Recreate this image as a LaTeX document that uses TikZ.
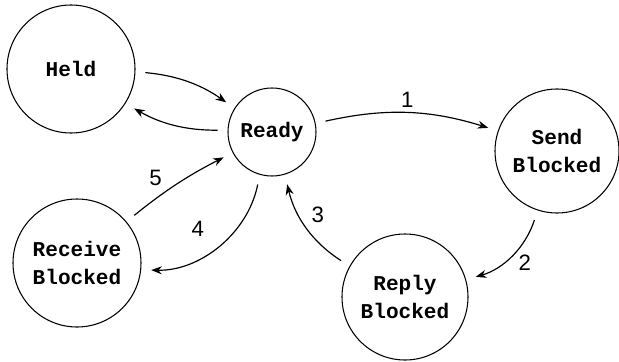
\documentclass[tikz,border=0pt]{standalone}
\usepackage{fontspec}
\setmainfont{Liberation Sans}
\setsansfont{Liberation Sans}
\setmonofont{Liberation Mono}
\usetikzlibrary{arrows.meta,positioning}

\begin{document}
\begin{tikzpicture}[x=0.3mm,y=-0.3mm,>={Stealth[length=3.2mm,width=2.4mm]},
	state/.style={circle,draw,line width=0.9pt,inner sep=0pt,align=center,
		font=\fontsize{18}{24}\selectfont\ttfamily\bfseries},
	trans/.style={->,line width=1pt,shorten >=3mm,shorten <=3mm},
	num/.style={font=\fontsize{19}{19}\selectfont\sffamily}]
	\useasboundingbox (0,0) rectangle (619,362);
	\node[state,minimum size=38.4mm] (held) at (71,69) {Held};
	\node[state,minimum size=26.4mm] (ready) at (272,132) {Ready};
	\node[state,minimum size=37.2mm] (send) at (557,151) {Send\\Blocked};
	\node[state,minimum size=38.4mm] (recv) at (77,263) {Receive\\Blocked};
	\node[state,minimum size=37.8mm] (reply) at (405,297) {Reply\\Blocked};
	\path (held) edge[trans,bend left=15] (ready);
	\path (ready) edge[trans,bend left=15] (held);
	\path (ready) edge[trans,bend left=15] node[num,above=0.5mm] {1} (send);
	\path (send) edge[trans,bend left=28] node[num,pos=0.62,right=3.5mm] {2} (reply);
	\path (reply) edge[trans,bend left=22] node[num,above right] {3} (ready);
	\path (ready) edge[trans,bend left=40] node[num,pos=0.55,above left=2.5mm and 1mm] {4} (recv);
	\path (recv) edge[trans,bend left=6] node[num,pos=0.4,above left=0mm and 0.5mm] {5} (ready);
\end{tikzpicture}
\end{document}
